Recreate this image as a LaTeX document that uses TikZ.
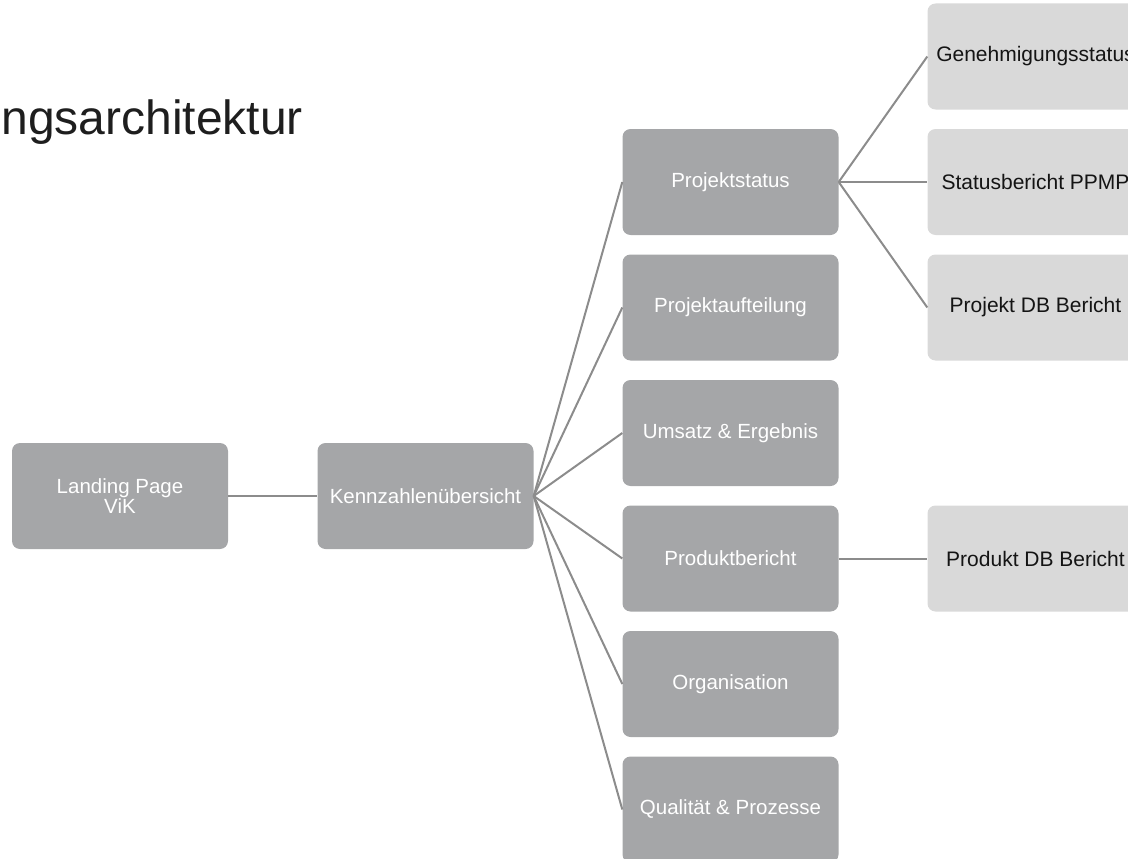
\documentclass[tikz,border=0pt]{standalone}
\usepackage{fontspec}
\setmainfont{Liberation Sans}
\begin{document}
\begin{tikzpicture}[x=1pt,y=-1pt,
  darkbox/.style={draw=none,fill={rgb,255:red,165;green,166;blue,168},rounded corners=8pt,
    minimum width=216pt,minimum height=106pt,inner sep=0pt,align=center,text=white,
    font=\fontsize{20.5}{20}\selectfont},
  lightbox/.style={draw=none,fill={rgb,255:red,217;green,217;blue,217},rounded corners=8pt,
    minimum width=216pt,minimum height=106pt,inner sep=0pt,align=center,text={rgb,255:red,20;green,20;blue,20},
    font=\fontsize{21}{22}\selectfont},
  conn/.style={draw={rgb,255:red,140;green,140;blue,140},line width=2pt}]
\path[use as bounding box,clip] (0,0) rectangle (1128,859);
\node[anchor=base east,font=\fontsize{48}{50}\selectfont,text={rgb,255:red,30;green,30;blue,30},inner sep=0pt] (title) at (303,134) {ngsarchitektur};
\node[darkbox] (lp) at (120,496) {Landing Page\\ViK};
\node[darkbox] (kz) at (425.5,496) {Kennzahlenübersicht};
\node[darkbox] (ps) at (730.5,182) {Projektstatus};
\node[darkbox] (pa) at (730.5,307.5) {Projektaufteilung};
\node[darkbox] (ue) at (730.5,433) {Umsatz \& Ergebnis};
\node[darkbox] (pb) at (730.5,558.5) {Produktbericht};
\node[darkbox] (or) at (730.5,684) {Organisation};
\node[darkbox] (qp) at (730.5,809.5) {Qualität \& Prozesse};
\node[lightbox] (gs) at (1035.5,56.5) {Genehmigungsstatus};
\node[lightbox] (sb) at (1035.5,182) {Statusbericht PPMP};
\node[lightbox] (pd) at (1035.5,307.5) {Projekt DB Bericht};
\node[lightbox] (prd) at (1035.5,558.5) {Produkt DB Bericht};
\draw[conn] (lp.east) -- (kz.west);
\foreach \t in {ps,pa,ue,pb,or,qp} \draw[conn] (kz.east) -- (\t.west);
\foreach \t in {gs,sb,pd} \draw[conn] (ps.east) -- (\t.west);
\draw[conn] (pb.east) -- (prd.west);
\end{tikzpicture}
\end{document}
